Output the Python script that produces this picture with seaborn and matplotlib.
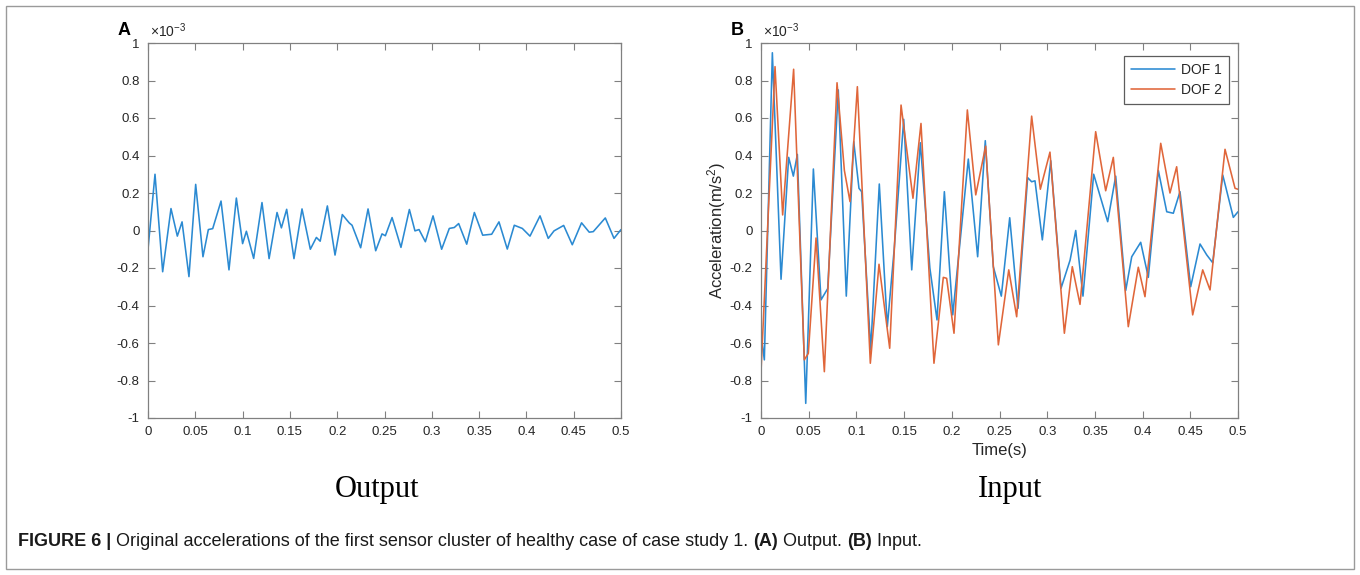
import numpy as np
import pandas as pd
import matplotlib
matplotlib.use('Agg')
import matplotlib.pyplot as plt
import seaborn as sns
from matplotlib.patches import Rectangle

# time (s) / acceleration (x 1e-3)
out_t = [0.0, 0.0074, 0.0155, 0.0243, 0.031, 0.036, 0.0433, 0.0504, 0.0581, 0.0638,
         0.0684, 0.0772, 0.0856, 0.0934, 0.100, 0.104, 0.1117, 0.1205, 0.128, 0.1364,
         0.141, 0.1466, 0.1543, 0.1628, 0.1716, 0.178, 0.182, 0.1896, 0.1977, 0.2054,
         0.2128, 0.2157, 0.2248, 0.2326, 0.2407, 0.2474, 0.2509, 0.258, 0.2674, 0.2763,
         0.2822, 0.2865, 0.2932, 0.3013, 0.3104, 0.3185, 0.3238, 0.3284, 0.3369, 0.345,
         0.3538, 0.3633, 0.371, 0.3798, 0.3872, 0.3957, 0.4038, 0.4144, 0.4231, 0.4292,
         0.4394, 0.4485, 0.4583, 0.4664, 0.4707, 0.4834, 0.4926, 0.5]
out_v = [-0.10, 0.30, -0.22, 0.117, -0.03, 0.046, -0.246, 0.246, -0.14, 0.005,
         0.01, 0.157, -0.21, 0.173, -0.07, -0.004, -0.149, 0.149, -0.15, 0.096,
         0.014, 0.113, -0.15, 0.115, -0.10, -0.037, -0.057, 0.131, -0.131, 0.085,
         0.04, 0.028, -0.092, 0.115, -0.108, -0.018, -0.028, 0.069, -0.09, 0.112,
         -0.002, 0.005, -0.06, 0.078, -0.10, 0.011, 0.016, 0.037, -0.073, 0.096,
         -0.025, -0.02, 0.046, -0.099, 0.028, 0.011, -0.03, 0.078, -0.042, -0.002,
         0.027, -0.076, 0.041, -0.009, -0.006, 0.067, -0.042, 0.005]

dof1_t = [0.0, 0.0035, 0.0119, 0.021, 0.029, 0.0339, 0.0381, 0.0469, 0.0549, 0.0629,
          0.0699, 0.081, 0.0894, 0.0972, 0.1027, 0.1055, 0.115, 0.124, 0.1324, 0.1397,
          0.1496, 0.158, 0.167, 0.177, 0.1845, 0.1922, 0.201, 0.2173, 0.2271, 0.2351,
          0.2435, 0.2519, 0.2607, 0.2694, 0.2795, 0.2837, 0.2872, 0.2949, 0.3037, 0.3145,
          0.324, 0.3299, 0.3375, 0.3487, 0.3634, 0.3718, 0.3823, 0.3886, 0.398, 0.406,
          0.4165, 0.4253, 0.4322, 0.4392, 0.4504, 0.4602, 0.4672, 0.4735, 0.484, 0.4951,
          0.5]
dof1_v = [-0.55, -0.69, 0.948, -0.26, 0.39, 0.29, 0.406, -0.922, 0.328, -0.37,
          -0.31, 0.75, -0.35, 0.474, 0.225, 0.207, -0.637, 0.248, -0.513, -0.095,
          0.593, -0.21, 0.468, -0.2, -0.477, 0.207, -0.45, 0.381, -0.14, 0.479,
          -0.193, -0.35, 0.068, -0.415, 0.282, 0.26, 0.265, -0.05, 0.372, -0.308,
          -0.158, 0.0, -0.35, 0.30, 0.047, 0.29, -0.32, -0.14, -0.063, -0.25,
          0.32, 0.10, 0.092, 0.207, -0.30, -0.072, -0.13, -0.172, 0.296, 0.07,
          0.10]

dof2_t = [0.0, 0.0147, 0.0227, 0.0342, 0.0454, 0.0496, 0.0577, 0.0664, 0.0797, 0.0874,
          0.0933, 0.101, 0.1146, 0.1237, 0.1349, 0.1468, 0.1593, 0.1677, 0.1813, 0.1911,
          0.1946, 0.2023, 0.2163, 0.2251, 0.2355, 0.2488, 0.2597, 0.268, 0.2837, 0.2928,
          0.3029, 0.318, 0.3263, 0.3344, 0.3508, 0.3613, 0.3693, 0.385, 0.3955, 0.4025,
          0.419, 0.4287, 0.4357, 0.4525, 0.463, 0.4707, 0.4864, 0.4969, 0.5]
dof2_v = [-0.753, 0.874, 0.083, 0.86, -0.69, -0.655, -0.04, -0.753, 0.788, 0.32,
          0.154, 0.767, -0.708, -0.18, -0.628, 0.669, 0.172, 0.571, -0.708, -0.25,
          -0.255, -0.548, 0.643, 0.19, 0.45, -0.61, -0.21, -0.46, 0.61, 0.22,
          0.418, -0.548, -0.193, -0.394, 0.527, 0.212, 0.39, -0.513, -0.196, -0.353,
          0.465, 0.2, 0.34, -0.45, -0.21, -0.317, 0.433, 0.225, 0.22]

x_ticks = [0, 0.05, 0.1, 0.15, 0.2, 0.25, 0.3, 0.35, 0.4, 0.45, 0.5]
y_ticks = [-1, -0.8, -0.6, -0.4, -0.2, 0, 0.2, 0.4, 0.6, 0.8, 1]
series_names = ['DOF 1', 'DOF 2']
panel_letters = ['A', 'B']
panel_names = ['Output', 'Input']

BLUE = '#2b8ad2'
ORANGE = '#e0663a'
SPINE = '#808080'
LABEL = '#262626'

sns.set_theme(style='ticks')
plt.rcParams['font.family'] = ['Liberation Sans', 'DejaVu Sans']
plt.rcParams['mathtext.default'] = 'regular'
plt.rcParams['axes.unicode_minus'] = False

W, H = 1360, 575
fig = plt.figure(figsize=(W / 100, H / 100), dpi=100)


def px_axes(left, top, right, bottom):
    return fig.add_axes([left / W, 1 - bottom / H, (right - left) / W, (bottom - top) / H])


def style_axes(ax):
    ax.set_xlim(0, 0.5)
    ax.set_ylim(-1, 1)
    ax.set_xticks(x_ticks)
    ax.set_yticks(y_ticks)
    ax.set_xticklabels(['%g' % v for v in x_ticks])
    ax.set_yticklabels(['%g' % v for v in y_ticks])
    ax.tick_params(direction='in', top=True, right=True, length=5, width=0.8,
                   color=SPINE, labelcolor=LABEL, labelsize=9.5, pad=6)
    for s in ax.spines.values():
        s.set_color(SPINE)
        s.set_linewidth(0.9)
    ax.grid(False)
    ax.set_xlabel('')
    ax.set_ylabel('')
    ax.text(0.004, 1.008, r'$\times10^{-3}$', transform=ax.transAxes,
            fontsize=10, color=LABEL, ha='left', va='bottom')


line_kw = dict(linewidth=1.15, estimator=None, solid_joinstyle='round')

# panel A - output
axA = px_axes(148, 43, 621, 418)
out_df = pd.DataFrame({'t': out_t, 'a': out_v})
sns.lineplot(data=out_df, x='t', y='a', ax=axA, color=BLUE, **line_kw)
style_axes(axA)

# panel B - input
axB = px_axes(761, 43, 1238, 418)
d1 = pd.DataFrame({'t': dof1_t, 'a': dof1_v})
d2 = pd.DataFrame({'t': dof2_t, 'a': dof2_v})
sns.lineplot(data=d1, x='t', y='a', ax=axB, color=BLUE, label=series_names[0], **line_kw)
sns.lineplot(data=d2, x='t', y='a', ax=axB, color=ORANGE, label=series_names[1], **line_kw)
style_axes(axB)
axB.set_xlabel('Time(s)', fontsize=12, color=LABEL, labelpad=3)
axB.set_ylabel('Acceleration(m/s$^2$)', fontsize=12, color=LABEL, labelpad=1)
leg = axB.legend(loc='upper right', bbox_to_anchor=(0.995, 0.985), fontsize=10,
                 frameon=True, fancybox=False, handlelength=3.2, borderpad=0.5,
                 labelspacing=0.45, handletextpad=0.4)
leg.get_frame().set_edgecolor('#333333')
leg.get_frame().set_linewidth(0.9)

# panel letters and names
name_x = [377, 1010]
for ax, letter, name, nx in zip([axA, axB], panel_letters, panel_names, name_x):
    pos = ax.get_position()
    fig.text(pos.x0 - 30 / W, pos.y1 + 4 / H, letter, fontsize=13, fontweight='bold',
             ha='left', va='bottom', color='black')
    fig.text(nx / W, 1 - 490 / H, name, fontsize=22,
             family='Liberation Serif', ha='center', va='center', color='black')

# caption
fig.canvas.draw()
renderer = fig.canvas.get_renderer()
cap_parts = [('FIGURE 6 |', 'bold'),
             (' Original accelerations of the first sensor cluster of healthy case of case study 1. ', 'normal'),
             ('(A)', 'bold'), (' Output. ', 'normal'), ('(B)', 'bold'), (' Input.', 'normal')]
cx = 18 / W
for txt, wt in cap_parts:
    t = fig.text(cx, 1 - 541 / H, txt, fontsize=13, fontweight=wt, ha='left',
                 va='center', color='#1a1a1a')
    bb = t.get_window_extent(renderer)
    cx += bb.width / W

fig.patches.append(Rectangle((6 / W, 6 / H), 1 - 12 / W, 1 - 12 / H, transform=fig.transFigure,
                             fill=False, edgecolor='#9a9a9a', linewidth=1.0))

fig.savefig('out.png', dpi=100)
